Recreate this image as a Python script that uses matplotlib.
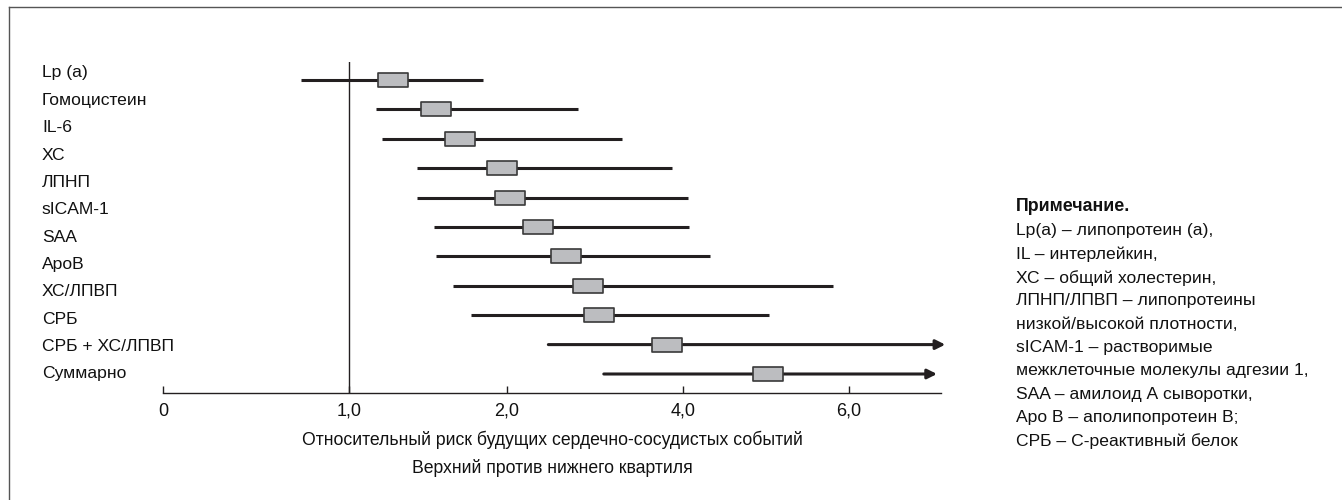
import numpy as np
import matplotlib
matplotlib.use("Agg")
import matplotlib.pyplot as plt
from matplotlib.path import Path
from matplotlib.transforms import blended_transform_factory

plt.rcParams['font.family'] = ['Liberation Sans', 'DejaVu Sans']

# маркеры (подписи слева идут своим столбцом, как в оригинале)
labels = ["Lp (a)", "Гомоцистеин", "IL-6", "ХС", "ЛПНП", "sICAM-1", "SAA",
          "ApoB", "ХС/ЛПВП", "СРБ", "СРБ + ХС/ЛПВП", "Суммарно"]

# относительный риск: точечная оценка и границы интервала (11 строк на рисунке)
rr = [1.28, 1.55, 1.70, 1.97, 2.03, 2.35, 2.67, 2.92, 3.05, 3.82, 5.02]
lo = [0.74, 1.17, 1.21, 1.43, 1.43, 1.54, 1.55, 1.66, 1.77, 2.47, 3.10]
hi = [1.85, 2.81, 3.31, 3.88, 4.06, 4.07, 4.33, 5.81, 5.04, 7.16, 7.06]
open_end = [False] * 9 + [True, True]

tick_vals = [0, 1, 2, 4, 6]
tick_labels = ["0", "1,0", "2,0", "4,0", "6,0"]

note_title = "Примечание."
note_lines = [
    "Lp(a) – липопротеин (а),",
    "IL – интерлейкин,",
    "ХС – общий холестерин,",
    "ЛПНП/ЛПВП – липопротеины",
    "низкой/высокой плотности,",
    "sICAM-1 – растворимые",
    "межклеточные молекулы адгезии 1,",
    "SAA – амилоид А сыворотки,",
    "Apo B – аполипопротеин В;",
    "СРБ – С-реактивный белок",
]

# неравномерная шкала оригинала: кусочно-линейная
knot_v = np.array([-1, 0, 1, 2, 4, 6, 8], dtype=float)
knot_p = np.array([-186, 0, 186, 344, 520, 686, 852], dtype=float)


def fwd(x):
    return np.interp(x, knot_v, knot_p)


def inv(p):
    return np.interp(p, knot_p, knot_v)


W, H = 1342, 500
fig = plt.figure(figsize=(W / 100, H / 100), dpi=100)
ax = fig.add_axes([163 / W, 1 - 393 / H, (941 - 163) / W, (393 - 62) / H])
ax.set_xscale('function', functions=(fwd, inv))
ax.set_xlim(0, inv(941 - 163))

row_px = 29.4
ax.set_ylim((393 - 80) / row_px, (62 - 80) / row_px)

line_col = '#231f20'
txt_col = '#111111'
y = np.arange(len(rr))
ax.axvline(1.0, color=line_col, lw=1.0, zorder=1)

for i in range(len(rr)):
    if open_end[i]:
        ax.annotate('', xy=(hi[i], y[i]), xytext=(lo[i], y[i]),
                    arrowprops=dict(arrowstyle='-|>', lw=2.2, color=line_col,
                                    mutation_scale=14, shrinkA=0, shrinkB=0),
                    annotation_clip=False, zorder=2)
    else:
        ax.hlines(y[i], lo[i], hi[i], color=line_col, lw=2.2, zorder=2)

rect = Path([(-1, -0.5), (1, -0.5), (1, 0.5), (-1, 0.5), (-1, -0.5)],
            [Path.MOVETO, Path.LINETO, Path.LINETO, Path.LINETO, Path.CLOSEPOLY])
ax.plot(rr, y, ls='none', marker=rect, markersize=21, mfc='#bcbdc0',
        mec='#3a3a3a', mew=1.2, zorder=3)

for s in ['top', 'right', 'left']:
    ax.spines[s].set_visible(False)
ax.spines['bottom'].set_color(line_col)
ax.spines['bottom'].set_linewidth(1.0)
ax.set_yticks([])
ax.set_xticks(tick_vals)
ax.set_xticklabels(tick_labels)
ax.tick_params(axis='x', direction='in', length=5, width=1.0, color=line_col,
               pad=7, labelsize=13, labelcolor=txt_col)
ax.minorticks_off()
ax.set_xlabel("Относительный риск будущих сердечно-сосудистых событий\n"
              "Верхний против нижнего квартиля",
              fontsize=12.7, linespacing=1.7, labelpad=8, color=txt_col)

# подписи строк
trans = blended_transform_factory(fig.transFigure, ax.transData)
label_y = np.linspace((73 - 80) / row_px, (374 - 80) / row_px, len(labels))
for lab, ly in zip(labels, label_y):
    ax.text(42 / W, ly, lab, transform=trans, ha='left', va='center',
            fontsize=12.6, color=txt_col, clip_on=False)

# примечание
fig.text(1016 / W, 1 - 207 / H, note_title, ha='left', va='center',
         fontsize=12.8, fontweight='bold', color=txt_col)
for k, line in enumerate(note_lines):
    fig.text(1016 / W, 1 - (231 + 23.3 * k) / H, line, ha='left', va='center',
             fontsize=12.6, color=txt_col)

# рамка
fig.add_artist(plt.Line2D([8.5 / W, 8.5 / W], [0, 1 - 6.5 / H],
                          transform=fig.transFigure, color='#555555', lw=1))
fig.add_artist(plt.Line2D([8.5 / W, 1], [1 - 6.5 / H, 1 - 6.5 / H],
                          transform=fig.transFigure, color='#555555', lw=1))

fig.savefig("out.png", dpi=100)
